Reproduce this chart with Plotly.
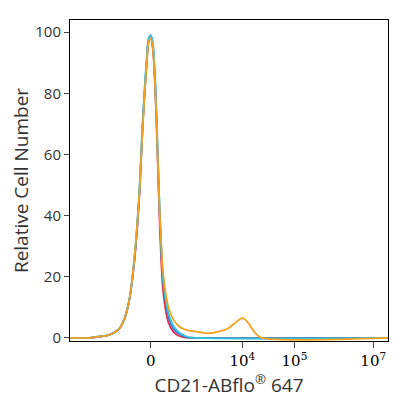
import plotly.graph_objects as go

# x values are display positions on the biexponential axis (0 .. 323)
x_main = [0, 20, 30, 40, 50, 55, 60, 65, 70, 74, 78, 80, 82, 84, 86, 88, 90, 92, 95, 100, 105, 110, 115, 120, 130, 323]

orange = [0, 0, 0.5, 1, 3, 6, 12, 25, 45, 70, 90, 97, 98, 95, 85, 70, 50, 35, 20, 10, 6, 4, 3, 2.5, 2, None]
cyan = [0, 0, 0.5, 1, 3, 6, 12, 25, 46, 72, 92, 98, 99, 97, 88, 72, 52, 35, 18, 8, 4, 2, 1, 0.3, 0, 0]
blue = [0, 0, 0.5, 1, 3, 6, 12, 24, 45, 71, 91, 98, 99, 96, 87, 71, 51, 34, 17, 7, 3, 1.5, 0.7, 0.2, 0, 0]
red = [0, 0, 0.4, 1, 3, 6, 12, 24, 44, 70, 90, 97, 98, 95, 85, 68, 48, 30, 14, 5, 2, 0.8, 0.3, 0, 0, 0]

x_tail = [130, 140, 150, 160, 168, 172, 175, 178, 182, 186, 190, 195, 323]
orange_tail = [1.8, 1.5, 2, 3, 5, 6, 6.5, 6, 4.5, 2.5, 1, 0, 0]

tick_pos = [82, 175, 228, 308]
tick_text = ["0", "10<sup>4</sup>", "10<sup>5</sup>", "10<sup>7</sup>"]

orange_x = x_main[:-1] + x_tail[1:]
orange_y = orange[:-1] + orange_tail[1:]

fig = go.Figure()
for name, y, color in [("red", red, "#E0304E"), ("blue", blue, "#3A6FD8"),
                       ("cyan", cyan, "#2EC8D8")]:
    fig.add_trace(go.Scatter(x=x_main, y=y, mode="lines", name=name,
                             line=dict(color=color, width=1.8, shape="spline")))
fig.add_trace(go.Scatter(x=orange_x, y=orange_y, mode="lines", name="orange",
                         line=dict(color="#F5A01E", width=1.8, shape="spline")))

fig.update_layout(
    width=400, height=400,
    showlegend=False,
    plot_bgcolor="white", paper_bgcolor="white",
    font=dict(family="Open Sans", size=16, color="#333333"),
    margin=dict(l=62, r=20, t=12, b=67),
    xaxis=dict(range=[0, 323], tickvals=tick_pos, ticktext=tick_text,
               ticks="outside", ticklen=6, showgrid=False, zeroline=False,
               showline=True, linecolor="black", mirror=True,
               tickfont=dict(family="DejaVu Serif", size=15, color="black"),
               title=dict(text="CD21-ABflo<sup>®</sup> 647", standoff=6)),
    yaxis=dict(range=[-1, 104], tickvals=[0, 20, 40, 60, 80, 100],
               ticks="outside", ticklen=5, showgrid=False, zeroline=False,
               showline=True, linecolor="black", mirror=True,
               tickfont=dict(size=15),
               title=dict(text="Relative Cell Number", standoff=2)),
)

fig.write_html("out.html")
